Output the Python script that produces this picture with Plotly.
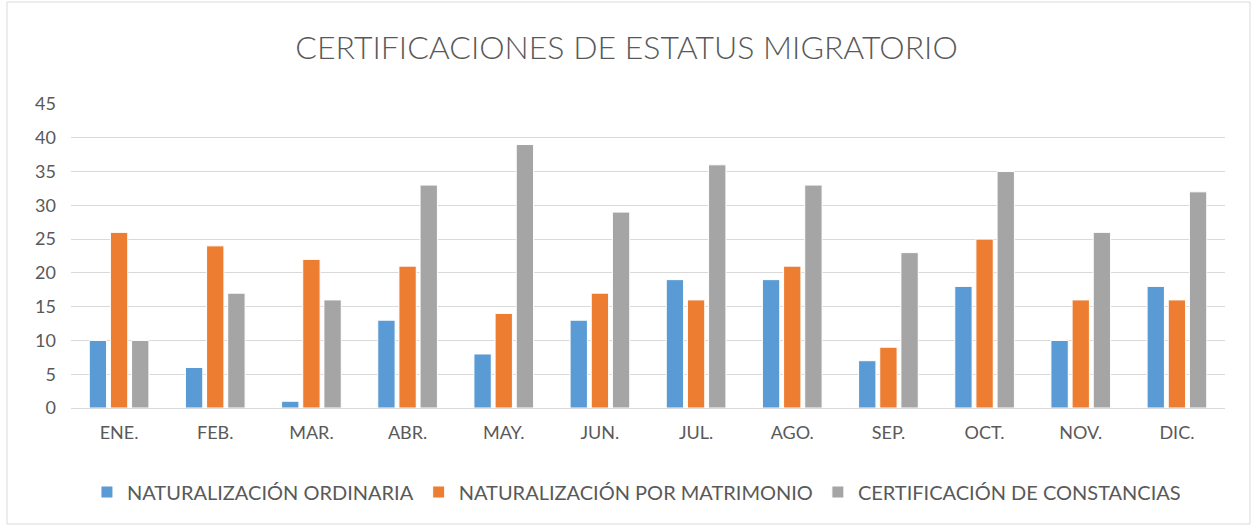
import plotly.graph_objects as go

months = ["ENE.", "FEB.", "MAR.", "ABR.", "MAY.", "JUN.", "JUL.", "AGO.", "SEP.", "OCT.", "NOV.", "DIC."]
ordinaria = [10, 6, 1, 13, 8, 13, 19, 19, 7, 18, 10, 18]
matrimonio = [26, 24, 22, 21, 14, 17, 16, 21, 9, 25, 16, 16]
constancias = [10, 17, 16, 33, 39, 29, 36, 33, 23, 35, 26, 32]
series_names = ["NATURALIZACIÓN ORDINARIA", "NATURALIZACIÓN POR MATRIMONIO", "CERTIFICACIÓN DE CONSTANCIAS"]
colors = ["#5B9BD5", "#ED7D31", "#A5A5A5"]

fig = go.Figure()
for name, vals, col in zip(series_names, [ordinaria, matrimonio, constancias], colors):
    fig.add_trace(go.Bar(x=months, y=vals, name=name, marker=dict(color=col, line=dict(color="white", width=1))))

font_family = "Lato, 'Open Sans', sans-serif"
fig.update_layout(
    width=1253, height=527,
    paper_bgcolor="white", plot_bgcolor="white",
    margin=dict(l=71, r=28, t=104, b=119),
    barmode="group", bargap=0.34, bargroupgap=0.18,
    title=dict(text="CERTIFICACIONES DE ESTATUS MIGRATORIO", x=0.5, xanchor="center", y=1 - 48/527, yanchor="middle",
               font=dict(family=font_family, size=32, color="#595959", weight=300)),
    font=dict(family=font_family, color="#595959"),
    legend=dict(orientation="h", x=0.49, xanchor="center", y=(408-492)/304, yanchor="middle",
                font=dict(size=20, color="#595959"), traceorder="normal", itemwidth=30),
    showlegend=True,
)
fig.update_yaxes(range=[0, 45], dtick=5, showgrid=True, gridcolor="#D9D9D9", gridwidth=1,
                 zeroline=True, zerolinecolor="#D9D9D9", zerolinewidth=1, showline=False,
                 tickfont=dict(size=18, color="#595959"), ticks="", ticklabelstandoff=14)
fig.update_xaxes(showline=False, showgrid=False, tickfont=dict(size=18, color="#595959"), ticks="",
                 ticklabelstandoff=12)
fig.add_shape(type="rect", xref="paper", yref="paper",
              x0=(7-71)/1154, x1=(1250-71)/1154, y0=(408-524)/304, y1=(408-2)/304,
              line=dict(color="#D9D9D9", width=1), fillcolor="rgba(0,0,0,0)", layer="below")
fig.write_html("out.html", config={"displayModeBar": False},
               post_script="document.body.style.margin='0';")
